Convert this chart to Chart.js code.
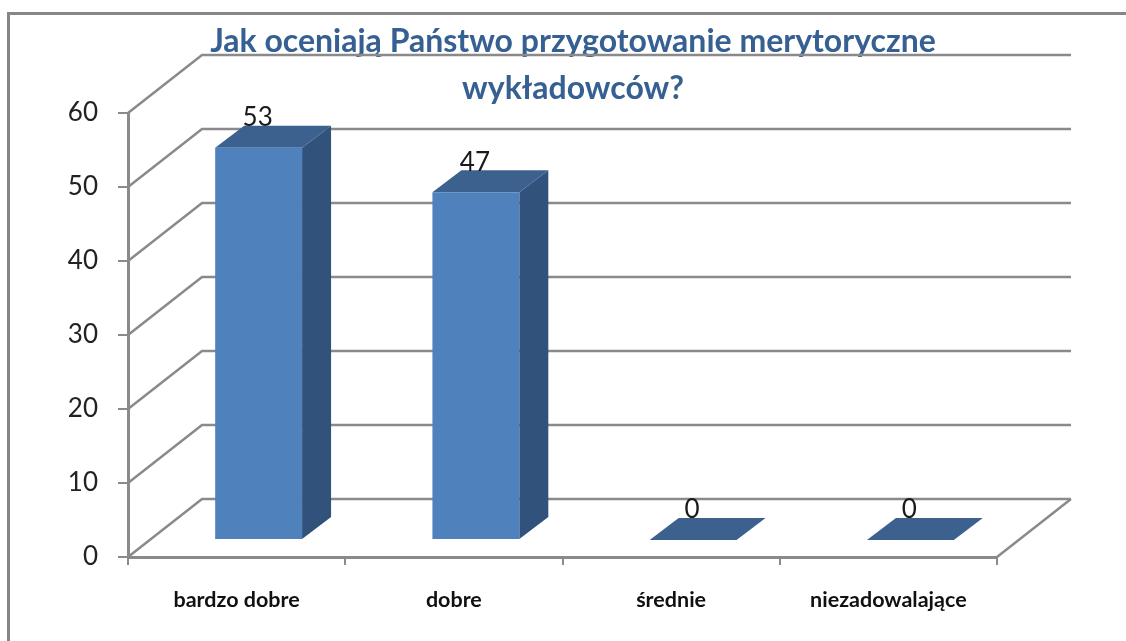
<!DOCTYPE html>
<html lang="pl">
<head>
<meta charset="UTF-8">
<title>Jak oceniają Państwo przygotowanie merytoryczne wykładowców?</title>
<script src="https://cdn.jsdelivr.net/npm/chart.js"></script>
<style>
  html, body { margin: 0; background: #fff; overflow: hidden; }
  #frame { position: absolute; left: 7px; top: 12px; width: 1300px; height: 800px; border: 3px solid #868686; }
  canvas { position: absolute; left: 0; top: 0; filter: blur(0.5px); }
</style>
</head>
<body>
<div id="frame"></div>
<canvas id="chart" width="1126" height="641"></canvas>
<script>
const titleLines = ['Jak oceniają Państwo przygotowanie merytoryczne', 'wykładowców?'];
const categories = ['bardzo dobre', 'dobre', 'średnie', 'niezadowalające'];
const values = [53, 47, 0, 0];

const gridColor = '#8a8a8a';
const frontColor = '#4f81bd';
const sideColor = '#31527b';
const topColor = '#3c618f';
const wall = { dx: 74, dy: -58 };      // depth of the back wall
const barShift = { dx: 22, dy: -17 };  // bars stand inside the floor
const barDepth = { dx: 29, dy: -22 };

function poly(ctx, color, pts) {
  ctx.fillStyle = color;
  ctx.beginPath();
  pts.forEach((p, i) => i ? ctx.lineTo(p[0], p[1]) : ctx.moveTo(p[0], p[1]));
  ctx.closePath();
  ctx.fill();
}

const fake3d = {
  id: 'fake3d',
  afterLayout(chart) {
    // title is centred on the whole picture, not on the plot
    chart.titleBlock.left += 149;
  },
  beforeDatasetsDraw(chart) {
    const { ctx, chartArea: a, scales: { y } } = chart;
    ctx.save();
    ctx.strokeStyle = gridColor;
    ctx.lineWidth = 2.5;
    y.ticks.forEach(t => {
      const py = y.getPixelForValue(t.value);
      ctx.beginPath();
      ctx.moveTo(a.left, py);
      ctx.lineTo(a.left + wall.dx, py + wall.dy);
      ctx.lineTo(a.right + wall.dx, py + wall.dy);
      ctx.stroke();
    });
    const floor = y.getPixelForValue(0);
    ctx.beginPath();
    ctx.moveTo(a.right, floor);
    ctx.lineTo(a.right + wall.dx, floor + wall.dy);
    ctx.stroke();
    ctx.restore();
  },
  beforeDatasetDraw(chart, args) {
    const { ctx } = chart;
    ctx.save();
    ctx.translate(barShift.dx, barShift.dy);
    args.meta.data.forEach(bar => {
      const l = bar.x - bar.width / 2, r = bar.x + bar.width / 2;
      const d = barDepth;
      poly(ctx, sideColor, [[r, bar.y], [r + d.dx, bar.y + d.dy], [r + d.dx, bar.base + d.dy], [r, bar.base]]);
      poly(ctx, topColor, [[l, bar.y], [l + d.dx, bar.y + d.dy], [r + d.dx, bar.y + d.dy], [r, bar.y]]);
    });
  },
  afterDatasetDraw(chart, args) {
    const { ctx } = chart;
    ctx.fillStyle = '#1a1a1a';
    ctx.font = '26px Lato';
    ctx.textAlign = 'center';
    ctx.textBaseline = 'middle';
    args.meta.data.forEach((bar, i) => {
      ctx.fillText(values[i], bar.x - 1, bar.y - 30);
    });
    ctx.restore();
  }
};

new Chart(document.getElementById('chart'), {
  type: 'bar',
  data: {
    labels: categories,
    datasets: [{ data: values, backgroundColor: frontColor, barPercentage: 0.4, categoryPercentage: 1, clip: false }]
  },
  options: {
    responsive: false,
    animation: false,
    layout: { padding: { left: 0, right: 129, top: 0, bottom: 0 } },
    plugins: {
      legend: { display: false },
      tooltip: { enabled: false },
      title: {
        display: true,
        text: titleLines,
        color: '#376092',
        font: { family: 'Lato', size: 32, weight: 'bold', lineHeight: '47px' },
        padding: { top: 18, bottom: 1 }
      }
    },
    scales: {
      x: {
        afterFit(s) { s.height = 84; },
        grid: { drawOnChartArea: false, color: gridColor, lineWidth: 2, tickLength: 8 },
        border: { color: gridColor, width: 3 },
        ticks: { color: '#111', padding: 22, maxRotation: 0, font: { family: 'Lato', size: 21.5, weight: 'bold' } }
      },
      y: {
        min: 0,
        max: 60,
        afterFit(s) { s.width = 128; },
        grid: { drawOnChartArea: false, color: gridColor, lineWidth: 2, tickLength: 10 },
        border: { color: gridColor, width: 3 },
        ticks: { stepSize: 10, color: '#222', padding: 20, font: { family: 'Lato', size: 26 } }
      }
    }
  },
  plugins: [fake3d]
});
</script>
</body>
</html>
